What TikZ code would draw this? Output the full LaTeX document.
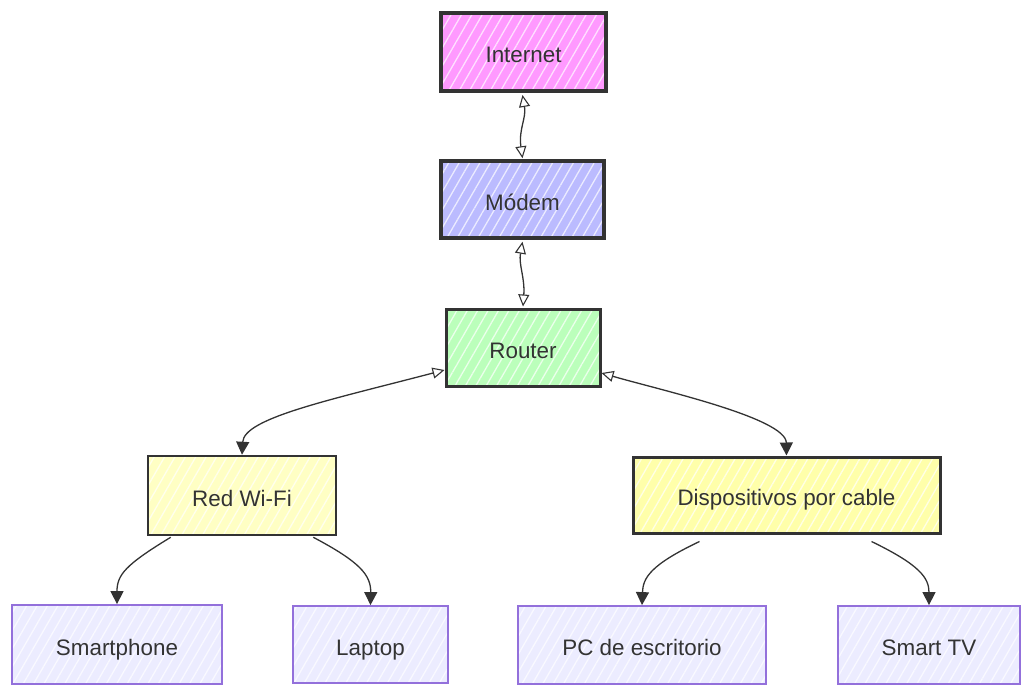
\documentclass[tikz,border=0pt]{standalone}
\usepackage{fontspec}
\setmainfont{Liberation Sans}
\usetikzlibrary{arrows.meta,patterns.meta,calc}
\definecolor{txt}{HTML}{333333}
\definecolor{inetfill}{HTML}{FF99FF}
\definecolor{modemfill}{HTML}{BBBBFF}
\definecolor{routerfill}{HTML}{BBFFBB}
\definecolor{wififill}{HTML}{FFFFC4}
\definecolor{cablefill}{HTML}{FFFFAA}
\definecolor{leaffill}{HTML}{ECECFF}
\definecolor{leafline}{HTML}{9370DB}
\begin{document}
\begin{tikzpicture}[x=1pt,y=-1pt,
  box/.style={rectangle, draw=txt, text=txt, inner sep=0pt,
    font=\fontsize{22.4}{26}\selectfont, text height=21pt, text depth=0pt,
    preaction={fill=#1},
    pattern={Lines[angle=60,distance=9pt,line width=1.3pt]}, pattern color=white!70!#1},
  leaf/.style={box=leaffill, draw=leafline, line width=1.8pt},
  conn/.style={draw=txt, line width=1.3pt},
  opentip/.tip={Triangle[open, length=12pt, width=11pt, line width=1.1pt]},
  solidtip/.tip={Triangle[length=13pt, width=13pt]}
]
\useasboundingbox (0,0) rectangle (1034,688);
\node[box=inetfill, line width=4pt, minimum width=165pt, minimum height=78pt] (inet) at (523.5,52) {Internet};
\node[box=modemfill, line width=3.5pt, minimum width=163pt, minimum height=77pt] (modem) at (522.5,199.5) {Módem};
\node[box=routerfill, line width=3pt, minimum width=154pt, minimum height=77pt] (router) at (523,347.5) {Router};
\node[box=wififill, line width=2.5pt, minimum width=188pt, minimum height=79pt] (wifi) at (242,495.5) {Red Wi-Fi};
\node[box=cablefill, line width=3pt, minimum width=307pt, minimum height=76pt] (cable) at (786.5,495) {Dispositivos por cable};
\node[leaf, minimum width=210pt, minimum height=79pt] (phone) at (117,644.5) {Smartphone};
\node[leaf, minimum width=155pt, minimum height=77pt] (laptop) at (370.5,644.5) {Laptop};
\node[leaf, minimum width=248pt, minimum height=78pt] (pc) at (642,645) {PC de escritorio};
\node[leaf, minimum width=182pt, minimum height=78pt] (tv) at (929,645) {Smart TV};

\draw[conn, {opentip}-{opentip}] ($(inet.south)+(-1,2)$) .. controls ($(inet.south)+(3,25)$) and ($(modem.north)+(-4,-30)$) .. ($(modem.north)+(0,-1)$);
\draw[conn, {opentip}-{opentip}] ($(modem.south)+(0,2)$) .. controls ($(modem.south)+(-4,25)$) and ($(router.north)+(2,-30)$) .. ($(router.north)+(0,-1)$);
\draw[conn, {opentip}-{solidtip}] (router.196) .. controls (330,400) and (244,418) .. (wifi.north);
\draw[conn, {opentip}-{solidtip}] (router.-18) .. controls (660,390) and (786,418) .. (cable.north);
\draw[conn, -{solidtip}] ($(wifi.south west)+(24,1)$) .. controls (125,565) and (117,575) .. (phone.north);
\draw[conn, -{solidtip}] ($(wifi.south east)+(-24,1)$) .. controls (360,562) and (371,575) .. (laptop.north);
\draw[conn, -{solidtip}] ($(cable.south west)+(68,7)$) .. controls (650,565) and (643,578) .. (pc.north);
\draw[conn, -{solidtip}] ($(cable.south east)+(-70,7)$) .. controls (920,565) and (929,578) .. (tv.north);
\end{tikzpicture}
\end{document}
